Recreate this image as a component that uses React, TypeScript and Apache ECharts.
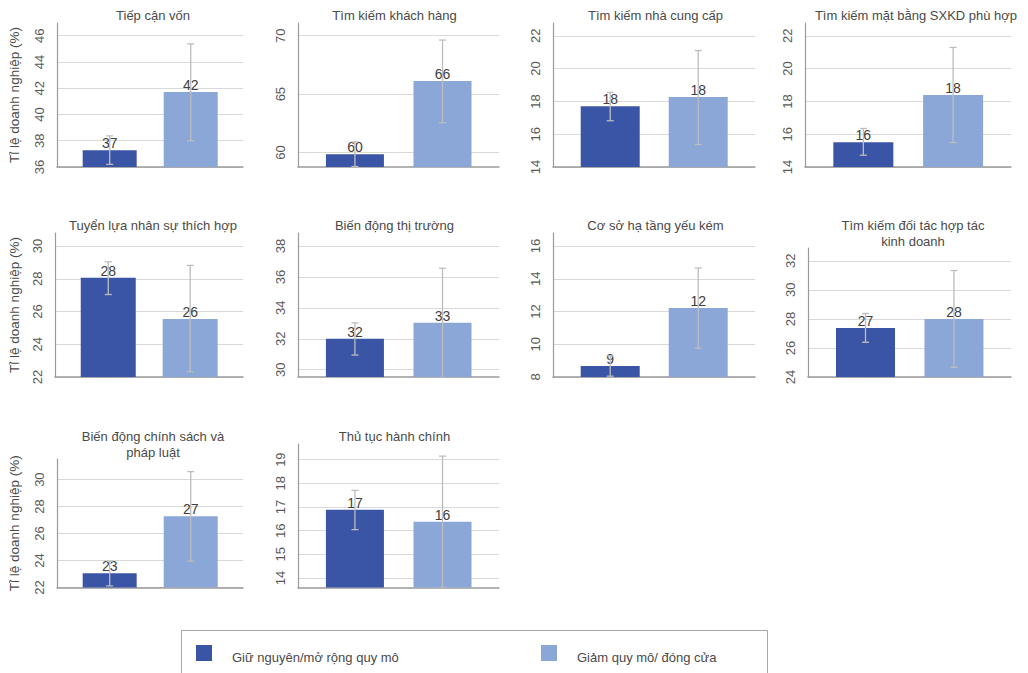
import React, { useEffect, useRef } from "react";
import * as echarts from "echarts";

const seriesNames = ["Giữ nguyên/mở rộng quy mô", "Giảm quy mô/ đóng cửa"];
const panelTitles = [
  "Tiếp cận vốn",
  "Tìm kiếm khách hàng",
  "Tìm kiếm nhà cung cấp",
  "Tìm kiếm mặt bằng SXKD phù hợp",
  "Tuyển lựa nhân sự thích hợp",
  "Biến động thị trường",
  "Cơ sở hạ tầng yếu kém",
  "Tìm kiếm đối tác hợp tác\nkinh doanh",
  "Biến động chính sách và\npháp luật",
  "Thủ tục hành chính",
];
const yAxisName = "Tỉ lệ doanh nghiệp (%)";

const keepValues = [37.28, 59.85, 17.71, 15.51, 28.06, 32.0, 8.67, 27.38, 23.06, 16.88];
const keepLow = [36.2, 58.8, 16.82, 14.72, 27.04, 30.95, 8.05, 26.39, 22.12, 16.04];
const keepHigh = [38.37, 60.91, 18.55, 16.35, 29.04, 33.03, 9.29, 28.37, 23.95, 17.7];
const shrinkValues = [41.72, 66.13, 18.27, 18.39, 25.55, 33.03, 12.22, 28.0, 27.28, 16.38];
const shrinkLow = [38.0, 62.55, 15.37, 15.49, 22.33, 29.5, 9.76, 24.67, 23.95, 13.6];
const shrinkHigh = [45.38, 69.63, 21.1, 21.29, 28.82, 36.56, 14.66, 31.33, 30.6, 19.15];

const yTicks = [
  [36, 38, 40, 42, 44, 46],
  [60, 65, 70],
  [14, 16, 18, 20, 22],
  [14, 16, 18, 20, 22],
  [22, 24, 26, 28, 30],
  [30, 32, 34, 36, 38],
  [8, 10, 12, 14, 16],
  [24, 26, 28, 30, 32],
  [22, 24, 26, 28, 30],
  [14, 15, 16, 17, 18, 19],
];
const yMin = [36, 58.76, 14, 14, 22, 29.53, 8, 24, 22, 13.6];
const yMax = [46.97, 71.09, 22.78, 22.78, 30.8, 38.84, 16.8, 32.88, 31.53, 19.66];

// layout (pixels)
const gridLeft = [57, 298, 553, 805, 55, 298, 553, 808, 57, 298];
const gridWidth = [186, 201, 202, 206, 188, 201, 202, 203, 186, 201];
const gridTop = [23, 23, 23, 23, 233, 233, 233, 248, 459, 444];
const gridBottomY = [167, 167, 167, 167, 377, 377, 377, 377, 587.5, 587.5];
const titleX = [153, 394.5, 655.5, 916, 153, 394.5, 655.5, 913, 153, 394.5];
const titleY = [15, 15, 15, 15, 225.7, 225.7, 225.7, 225.7, 436.7, 436.7];

const DARK = "#3B55A6";
const LIGHT = "#8BA7D7";
const FONT = "'Liberation Sans', Arial, Helvetica, sans-serif";

export default function App() {
  const ref = useRef<HTMLDivElement>(null);
  useEffect(() => {
    if (!ref.current) return;
    const chart = echarts.init(ref.current, undefined, { renderer: "svg" });
    const grids: any[] = [];
    const xAxes: any[] = [];
    const yAxes: any[] = [];
    const series: any[] = [];
    const graphics: any[] = [];

    for (let i = 0; i < panelTitles.length; i++) {
      const h = gridBottomY[i] - gridTop[i];
      grids.push({ left: gridLeft[i], top: gridTop[i], width: gridWidth[i], height: h, containLabel: false });
      xAxes.push({
        type: "value",
        gridIndex: i,
        min: -0.65,
        max: 1.645,
        axisLine: { show: true, onZero: false, lineStyle: { color: "#9A9A9A", width: 1.5 } },
        axisTick: { show: false },
        axisLabel: { show: false },
        splitLine: { show: false },
      });
      const withName = i === 0 || i === 4 || i === 8;
      yAxes.push({
        type: "value",
        gridIndex: i,
        min: yMin[i],
        max: yMax[i],
        name: withName ? yAxisName : "",
        nameLocation: "middle",
        nameRotate: 90,
        nameGap: gridLeft[i] - 21.5,
        nameTextStyle: { fontSize: 13.5, color: "#4A4A4A", fontFamily: FONT },
        axisLine: { show: true, onZero: false, lineStyle: { color: "#9A9A9A", width: 1.2 } },
        axisTick: { show: false, customValues: yTicks[i] },
        axisLabel: {
          customValues: yTicks[i],
          rotate: 90,
          margin: 11,
          fontSize: 13,
          color: "#595959",
          fontFamily: FONT,
        },
        splitLine: { show: true, lineStyle: { color: "#D9D9D9", width: 1 } },
      });
      const bw = Math.round(gridWidth[i] * 0.29);
      series.push({
        type: "bar",
        xAxisIndex: i,
        yAxisIndex: i,
        barWidth: bw,
        clip: true,
        data: [
          { value: [0, keepValues[i]], itemStyle: { color: DARK } },
          { value: [1, shrinkValues[i]], itemStyle: { color: LIGHT } },
        ],
        label: {
          show: true,
          position: "top",
          distance: 0,
          fontSize: 14,
          color: "#404040",
          fontFamily: FONT,
          formatter: (p: any) => String(Math.round(p.value[1])),
        },
        z: 2,
      });
      series.push({
        type: "custom",
        xAxisIndex: i,
        yAxisIndex: i,
        z: 3,
        clip: true,
        data: [
          [0, keepLow[i], keepHigh[i]],
          [1, shrinkLow[i], shrinkHigh[i]],
        ],
        renderItem: (params: any, api: any) => {
          const x = api.value(0);
          const lo = api.coord([x, api.value(1)]);
          const hi = api.coord([x, api.value(2)]);
          const cap = 3.5;
          const style = { stroke: "#BDBDBD", lineWidth: 1.3 };
          return {
            type: "group",
            children: [
              { type: "line", shape: { x1: lo[0], y1: lo[1], x2: hi[0], y2: hi[1] }, style },
              { type: "line", shape: { x1: lo[0] - cap, y1: lo[1], x2: lo[0] + cap, y2: lo[1] }, style },
              { type: "line", shape: { x1: hi[0] - cap, y1: hi[1], x2: hi[0] + cap, y2: hi[1] }, style },
            ],
          };
        },
      });
      graphics.push({
        type: "text",
        x: titleX[i],
        y: titleY[i] - 8,
        style: {
          text: panelTitles[i],
          textAlign: "center",
          textVerticalAlign: "top",
          fontSize: 13,
          lineHeight: 16,
          fill: "#4A4A4A",
          fontFamily: FONT,
        },
      });
    }

    // legend box
    graphics.push({
      type: "rect",
      shape: { x: 181.5, y: 630.5, width: 586, height: 60 },
      style: { fill: "none", stroke: "#A6A6A6", lineWidth: 1 },
    });
    graphics.push({ type: "rect", shape: { x: 196, y: 645, width: 16, height: 16 }, style: { fill: DARK } });
    graphics.push({
      type: "text",
      x: 232,
      y: 657,
      style: { text: seriesNames[0], textVerticalAlign: "middle", fontSize: 13, fill: "#4A4A4A", fontFamily: FONT },
    });
    graphics.push({ type: "rect", shape: { x: 541, y: 645, width: 16, height: 16 }, style: { fill: LIGHT } });
    graphics.push({
      type: "text",
      x: 577,
      y: 657,
      style: { text: seriesNames[1], textVerticalAlign: "middle", fontSize: 13, fill: "#4A4A4A", fontFamily: FONT },
    });

    chart.setOption({
      animation: false,
      backgroundColor: "#ffffff",
      textStyle: { fontFamily: FONT },
      grid: grids,
      xAxis: xAxes,
      yAxis: yAxes,
      series,
      graphic: graphics,
    });
    return () => chart.dispose();
  }, []);
  return (
    <div
      ref={ref}
      style={{ position: "absolute", left: 0, top: 0, width: 1028, height: 673 }}
    />
  );
}
